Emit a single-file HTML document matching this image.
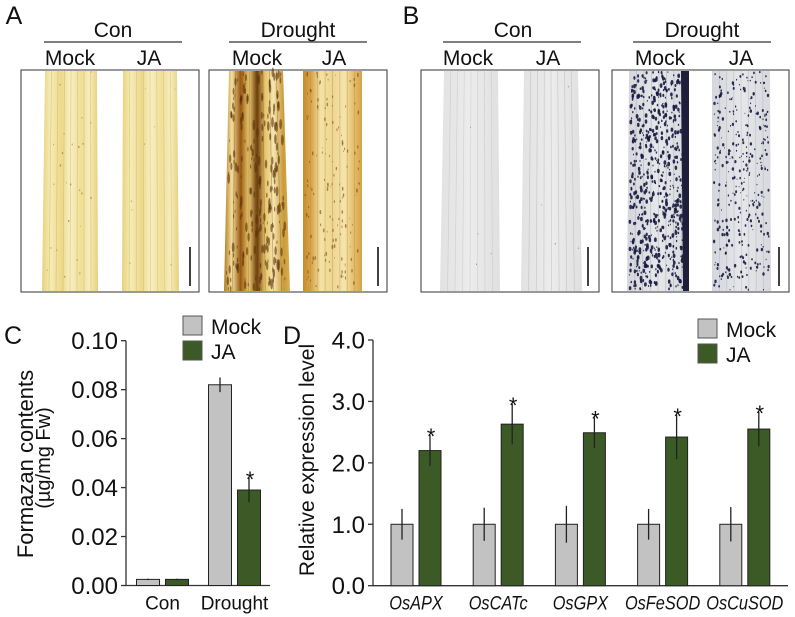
<!DOCTYPE html>
<html><head><meta charset="utf-8"><style>
html,body{margin:0;padding:0;background:#fff;}
svg{display:block;font-family:"Liberation Sans",Arial,sans-serif;}
</style></head><body>
<svg id="fig" width="795" height="617" viewBox="0 0 795 617" xmlns="http://www.w3.org/2000/svg">
<defs>
  <linearGradient id="yConM" x1="0" x2="1" y1="0" y2="0">
    <stop offset="0" stop-color="#e8d27a"/><stop offset="0.15" stop-color="#f6ebb8"/><stop offset="0.35" stop-color="#ecd98a"/><stop offset="0.5" stop-color="#f8efc4"/><stop offset="0.7" stop-color="#efdf96"/><stop offset="0.85" stop-color="#f7edbe"/><stop offset="1" stop-color="#e6d07a"/>
  </linearGradient>
  <linearGradient id="yDrM" x1="0" x2="1" y1="0" y2="0">
    <stop offset="0" stop-color="#b07a1c"/><stop offset="0.12" stop-color="#f3e0a0"/><stop offset="0.25" stop-color="#9a5a12"/><stop offset="0.38" stop-color="#e8c870"/><stop offset="0.5" stop-color="#6a3a0a"/><stop offset="0.62" stop-color="#e6c46a"/><stop offset="0.75" stop-color="#f5e6b0"/><stop offset="0.9" stop-color="#c99a3a"/><stop offset="1" stop-color="#d8b050"/>
  </linearGradient>
  <linearGradient id="yDrJ" x1="0" x2="1" y1="0" y2="0">
    <stop offset="0" stop-color="#c88a2a"/><stop offset="0.15" stop-color="#d9a850"/><stop offset="0.3" stop-color="#f4e2a6"/><stop offset="0.5" stop-color="#eed592"/><stop offset="0.7" stop-color="#f5e5ae"/><stop offset="0.85" stop-color="#e4c070"/><stop offset="1" stop-color="#d4a447"/>
  </linearGradient>
  <linearGradient id="gCon" x1="0" x2="1" y1="0" y2="0">
    <stop offset="0" stop-color="#e2e2e2"/><stop offset="0.5" stop-color="#ececec"/><stop offset="1" stop-color="#e0e0e0"/>
  </linearGradient>
  <linearGradient id="gDr" x1="0" x2="1" y1="0" y2="0">
    <stop offset="0" stop-color="#d4d6dc"/><stop offset="0.5" stop-color="#e6e7ea"/><stop offset="1" stop-color="#d6d8dd"/>
  </linearGradient>
</defs>
<g id="photos"></g>
<g id="chartC"></g>
<g id="chartD"></g>
</svg>
<script>
// ---- chart data ----
const cCategories = ["Con", "Drought"];
const cMock = [0.0025, 0.082];
const cMockErr = [0.0003, 0.003];
const cJA = [0.0025, 0.039];
const cJAErr = [0.0003, 0.005];
const cSig = [false, true];
const cTicks = ["0.00", "0.02", "0.04", "0.06", "0.08", "0.10"];

const dCategories = ["OsAPX", "OsCATc", "OsGPX", "OsFeSOD", "OsCuSOD"];
const dMock = [1.0, 1.0, 1.0, 1.0, 1.0];
const dMockErr = [0.25, 0.27, 0.3, 0.25, 0.28];
const dJA = [2.2, 2.63, 2.49, 2.42, 2.55];
const dJAErr = [0.25, 0.33, 0.25, 0.36, 0.28];
const dTicks = ["0.0", "1.0", "2.0", "3.0", "4.0"];

const NS = "http://www.w3.org/2000/svg";
function mk(parent, tag, attrs, text) {
  const e = document.createElementNS(NS, tag);
  for (const k in attrs) e.setAttribute(k, attrs[k]);
  if (text !== undefined) e.textContent = text;
  parent.appendChild(e);
  return e;
}
const MOCKC = "#c2c2c2", JAC = "#3b5a26", INK = "#222";

// ---- photos ----
const P = document.getElementById("photos");
let seed = 7;
function rnd() { seed = (seed * 16807) % 2147483647; return seed / 2147483647; }

function label(x, y, t, size, name) {
  const e = mk(P, "text", {x: x, y: y, "font-size": size, "text-anchor": "middle", fill: "#111"}, t);
  
  
}
function header(cx, lx1, lx2, title, mx, jx, pre) {
  label(cx, 37, title, 21, pre + "-title");
  const l = mk(P, "line", {x1: lx1, x2: lx2, y1: 42, y2: 42, stroke: "#555", "stroke-width": 1.5});
  
  
  label(mx, 65, "Mock", 21, pre + "-mock-label");
  label(jx, 65, "JA", 21, pre + "-ja-label");
}
function box(x1, x2, name) {
  const r = mk(P, "rect", {x: x1, y: 70, width: x2 - x1, height: 222, fill: "none", stroke: "#333", "stroke-width": 1});
  
  
}
function leaf(tl, tr, bl, br, fill, name, spots, spotColor, veinColor) {
  const g = mk(P, "g", {});
  
  
  mk(g, "polygon", {points: `${tl},71 ${tr},71 ${br},291 ${bl},291`, fill: fill});
  const n = 8;
  for (let i = 1; i < n; i++) {
    const xt = tl + (tr - tl) * i / n, xb = bl + (br - bl) * i / n;
    mk(g, "line", {x1: xt, y1: 71, x2: xb, y2: 291, stroke: veinColor, "stroke-width": 0.7, opacity: 0.5});
  }
  for (let i = 0; i < spots.count; i++) {
    const fy = rnd();
    const y = 72 + fy * 218;
    const l = tl + (bl - tl) * fy, r = tr + (br - tr) * fy;
    const x = l + 2 + rnd() * (r - l - 4);
    const s = spots.min + rnd() * (spots.max - spots.min);
    mk(g, "ellipse", {cx: x.toFixed(1), cy: y.toFixed(1), rx: (s * 0.8).toFixed(1), ry: (s * spots.elong).toFixed(1), fill: spotColor, opacity: spots.op});
  }
}
function scalebar(x) {
  const l = mk(P, "line", {x1: x, x2: x, y1: 247, y2: 286, stroke: "#111", "stroke-width": 1.6});
  
  
}
label(14, 24, "A", 25, "panel-label-a");
label(411, 24, "B", 25, "panel-label-b");
header(113, 44, 182, "Con", 70, 149, "a-con");
header(298, 229, 367, "Drought", 257, 334, "a-drought");
header(513, 443, 581, "Con", 468, 548, "b-con");
header(702, 633, 771, "Drought", 660, 741, "b-drought");
box(21, 199, "panel-a-con-box");
box(209, 387, "panel-a-drought-box");
box(421, 599, "panel-b-con-box");
box(612, 789, "panel-b-drought-box");
leaf(45, 97, 42, 98, "url(#yConM)", "a-con-mock-leaf", {count: 25, min: 0.4, max: 1.0, op: 0.5, elong: 1.3}, "#8a5a14", "#c9a94a");
leaf(123, 177, 122, 179, "url(#yConM)", "a-con-ja-leaf", {count: 8, min: 0.4, max: 0.8, op: 0.4, elong: 1.3}, "#8a5a14", "#cfb050");
leaf(229, 283, 224, 290, "url(#yDrM)", "a-drought-mock-leaf", {count: 220, min: 0.5, max: 1.8, op: 0.6, elong: 3}, "#5a300a", "#8a5a14");
leaf(303, 362, 303, 362, "url(#yDrJ)", "a-drought-ja-leaf", {count: 140, min: 0.4, max: 1.1, op: 0.6, elong: 2}, "#7a4a10", "#b88a30");
leaf(444, 498, 440, 500, "url(#gCon)", "b-con-mock-leaf", {count: 4, min: 0.4, max: 0.7, op: 0.5, elong: 1.2}, "#333", "#bbb");
leaf(524, 578, 521, 582, "url(#gCon)", "b-con-ja-leaf", {count: 4, min: 0.4, max: 0.7, op: 0.5, elong: 1.2}, "#333", "#aaa");
leaf(629, 689, 627, 689, "url(#gDr)", "b-drought-mock-leaf", {count: 650, min: 0.6, max: 1.8, op: 0.9, elong: 1.3}, "#1a1a40", "#999");
leaf(712, 770, 712, 771, "url(#gDr)", "b-drought-ja-leaf", {count: 330, min: 0.5, max: 1.5, op: 0.9, elong: 1.2}, "#1a1a40", "#aaa");
const edge = mk(P, "polygon", {points: "681,71 689,71 689,291 683,291", fill: "#1e1e3a"});


scalebar(190); scalebar(378); scalebar(588); scalebar(779);

// ---- bar chart helper ----
function barChart(gid, o) {
  const G = document.getElementById(gid);
  const y = v => o.y0 - (v / o.max) * (o.y0 - o.yTop);
  const ax = mk(G, "path", {d: `M${o.x0},${o.yTop} V${o.y0} H${o.xEnd}`, fill: "none", stroke: "#333", "stroke-width": 1.3});
  
  
  o.ticks.forEach((t, i) => {
    const v = o.max * i / (o.ticks.length - 1);
    const tk = mk(G, "line", {x1: o.x0 - 5, x2: o.x0, y1: y(v), y2: y(v), stroke: "#333", "stroke-width": 1.3});
    
    
    const tl = mk(G, "text", {x: o.x0 - 8, y: y(v) + 8.5, "font-size": o.tickSize, "text-anchor": "end", fill: "#111"}, t);
    
    
  });
  o.cats.forEach((c, i) => {
    const cx = o.c0 + i * o.step;
    [[o.mock, o.mockErr, MOCKC, -1, "mock"], [o.ja, o.jaErr, JAC, 1, "ja"]].forEach(([vals, errs, col, side, nm]) => {
      const bx = side < 0 ? cx - o.gap / 2 - o.bw : cx + o.gap / 2;
      const r = mk(G, "rect", {x: bx, y: y(vals[i]), width: o.bw, height: o.y0 - y(vals[i]), fill: col, stroke: INK, "stroke-width": 1});
      
      
      const ex = bx + o.bw / 2;
      const e = mk(G, "line", {x1: ex, x2: ex, y1: y(vals[i] + errs[i]), y2: y(vals[i] - errs[i]), stroke: INK, "stroke-width": 1.3});
      
      
      if (nm === "ja" && o.sig[i]) {
        const s = mk(G, "text", {x: ex + 1, y: y(vals[i] + errs[i]) + 9, "font-size": 22, "text-anchor": "middle", fill: "#111"}, "*");
        
        
      }
    });
    const lbl = mk(G, "text", {x: 0, y: 0, "font-size": o.catSize, "text-anchor": "middle", fill: "#111", "font-style": o.italic ? "italic" : "normal", transform: `translate(${cx},${o.y0 + 24}) scale(${o.catScale},1)`}, c);
    
    
  });
  [[MOCKC, "Mock", 0], [JAC, "JA", 1]].forEach(([col, t, k]) => {
    const r = mk(G, "rect", {x: o.lx, y: o.ly + k * 25, width: 19, height: 19, fill: col, stroke: "#555", "stroke-width": 1});
    
    
    const tx = mk(G, "text", {x: o.lx + 28, y: o.ly + k * 25 + 18, "font-size": 21, fill: "#111"}, t);
    
    
  });
  const pl = mk(G, "text", {x: o.px, y: o.py, "font-size": 25, fill: "#111"}, o.panel);
  
  
  o.title.forEach((t, k) => {
    const tx = mk(G, "text", {x: 0, y: 0, "font-size": o.titleSize[k], "text-anchor": "middle", fill: "#111", transform: `translate(${o.tx[k]},${o.ty[k]}) rotate(-90)`}, t);
    
    
  });
}
barChart("chartC", {x0: 126, xEnd: 270, y0: 585.5, yTop: 340.7, max: 0.10, ticks: cTicks, tickSize: 24,
  cats: cCategories, c0: 162.5, step: 72, bw: 23, gap: 6, mock: cMock, mockErr: cMockErr, ja: cJA, jaErr: cJAErr, sig: cSig,
  catSize: 19, catScale: 1, italic: false, lx: 183, ly: 316, px: 4, py: 344, panel: "C",
  title: ["Formazan contents", "(µg/mg Fw)"], titleSize: [22, 20], tx: [33, 50], ty: [464, 458]});
barChart("chartD", {x0: 373, xEnd: 788, y0: 585.7, yTop: 340, max: 4.0, ticks: dTicks, tickSize: 24,
  cats: dCategories, c0: 416, step: 82.2, bw: 22, gap: 6, mock: dMock, mockErr: dMockErr, ja: dJA, jaErr: dJAErr, sig: [true, true, true, true, true],
  catSize: 19, catScale: 0.86, italic: true, lx: 698, ly: 319, px: 283, py: 344, panel: "D",
  title: ["Relative expression level"], titleSize: [21], tx: [314], ty: [460]});
</script>
</body></html>
